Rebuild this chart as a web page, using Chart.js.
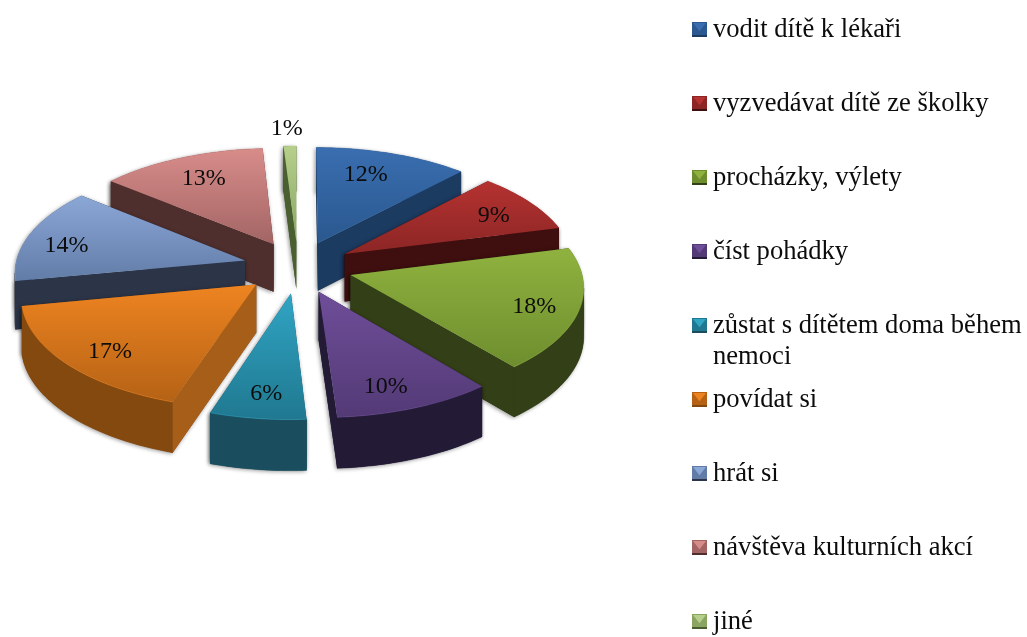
<!DOCTYPE html>
<html><head><meta charset="utf-8">
<style>html,body{margin:0;padding:0;background:#fff}canvas{display:block}</style>
<script src="https://cdn.jsdelivr.net/npm/chart.js@4/dist/chart.umd.min.js"></script>
</head><body><canvas id="c" width="1027" height="637"></canvas>
<script>
const categories = ['vodit dítě k lékaři','vyzvedávat dítě ze školky','procházky, výlety','číst pohádky',['zůstat s dítětem doma během','nemoci'],'povídat si','hrát si','návštěva kulturních akcí','jiné'];
const values = [12,9,18,10,6,17,14,13,1];
const topLight = ['#3a6eb0','#b53230','#8fb23f','#6f4e99','#30a5c4','#ee8421','#8ba7d6','#d88c8a','#b6d08c'];
const topDark  = ['#2a588f','#8b2625','#6e8e2e','#533a76','#207890','#b56215','#627ca8','#a26564','#8aa562'];
const sideColors = ['#1b3b60','#3f0f0f','#333f16','#231a36','#1a4e5e','#84490f','#2c3548','#4e2f2d','#4a5f30'];
const radialColors = ['#1b3b60','#3f0f0f','#333f16','#231a36','#1a4e5e','#a65e18','#2c3548','#4e2f2d','#4a5f30'];
const labelReach = [1,1,1,1,1,1,1,1,1.45];
const labelNudgeX = [-10,7,11,-5,0,-4,-14,2,-2];
const labelNudgeY = [1,2,5,9,7,8,5,1,1];

const TILT = 0.474, PERSPECTIVE = 0.094, WIDEN = 0.964, DEPTH = 48, FONT = '"Liberation Serif"';

function project(arc, R, a, t, off) {
  const mid = (arc.startAngle + arc.endAngle) / 2;
  const u = Math.cos(mid) * off + Math.cos(a) * t;
  const v = Math.sin(mid) * off + Math.sin(a) * t;
  const w = 1 - PERSPECTIVE * v;
  return { x: arc.x + R * WIDEN * u / w, y: arc.y + R * WIDEN * TILT * v / w, d: DEPTH / Math.sqrt(w) };
}
function poly(ctx, pts) {
  ctx.beginPath();
  pts.forEach((p, i) => i ? ctx.lineTo(p.x, p.y) : ctx.moveTo(p.x, p.y));
  ctx.closePath();
}
const pieOnGround = {
  id: 'pieOnGround',
  beforeDatasetDraw(chart) {
    const ctx = chart.ctx, arcs = chart.getDatasetMeta(0).data;
    const order = arcs.map((arc, i) => i).sort((a, b) =>
      Math.sin((arcs[a].startAngle + arcs[a].endAngle) / 2) - Math.sin((arcs[b].startAngle + arcs[b].endAngle) / 2));
    order.forEach(i => {
      const arc = arcs[i], R = arc.outerRadius, off = arc.options.offset / R;
      const n = Math.max(4, Math.ceil((arc.endAngle - arc.startAngle) * 40));
      const rim = [];
      for (let k = 0; k <= n; k++) rim.push(project(arc, R, arc.startAngle + (arc.endAngle - arc.startAngle) * k / n, 1, off));
      const apex = project(arc, R, 0, 0, off);
      const low = p => ({ x: p.x, y: p.y + p.d });
      const top = [apex, ...rim];
      ctx.save();
      ctx.shadowColor = 'rgba(0,0,0,0.45)'; ctx.shadowBlur = 4; ctx.shadowOffsetX = -1; ctx.shadowOffsetY = 1;
      ctx.fillStyle = sideColors[i];
      top.forEach((p, k) => {
        const q = top[(k + 1) % top.length];
        poly(ctx, [p, q, low(q), low(p)]); ctx.fill();
      });
      ctx.shadowColor = 'transparent';
      let run = [];
      const flush = () => {
        if (run.length > 1) { poly(ctx, [...run, ...run.slice().reverse().map(low)]); ctx.fillStyle = sideColors[i]; ctx.fill(); ctx.strokeStyle = sideColors[i]; ctx.lineWidth = 0.5; ctx.stroke(); }
        run = [];
      };
      for (let k = 0; k < rim.length; k++) {
        if (k < rim.length - 1 && rim[k + 1].x < rim[k].x) { run.push(rim[k]); }
        else { if (run.length) run.push(rim[k]); flush(); }
      }
      [[apex, rim[0]], [rim[rim.length - 1], apex]].forEach(([p, q]) => {
        if (q.x < p.x) { poly(ctx, [p, q, low(q), low(p)]); ctx.fillStyle = radialColors[i]; ctx.fill(); }
      });
      const ys = top.map(p => p.y), g = ctx.createLinearGradient(0, Math.min(...ys), 0, Math.max(...ys));
      g.addColorStop(0, topLight[i]); g.addColorStop(1, topDark[i]);
      poly(ctx, top); ctx.fillStyle = g; ctx.fill();
      ctx.beginPath(); rim.forEach((p, k) => k ? ctx.lineTo(p.x, p.y) : ctx.moveTo(p.x, p.y));
      ctx.globalAlpha = 0.5; ctx.strokeStyle = topLight[i]; ctx.lineWidth = 1; ctx.stroke();
      ctx.restore();
    });
    return false;
  },
  afterDraw(chart) {
    const ctx = chart.ctx, arcs = chart.getDatasetMeta(0).data;
    ctx.save();
    ctx.fillStyle = '#0c0c0c'; ctx.textAlign = 'center'; ctx.textBaseline = 'middle';
    ctx.font = '24px ' + FONT;
    arcs.forEach((arc, i) => {
      const R = arc.outerRadius, mid = (arc.startAngle + arc.endAngle) / 2;
      const p = project(arc, R, mid, labelReach[i] - arc.options.offset / R, arc.options.offset / R);
      ctx.fillText(values[i] + '%', p.x + labelNudgeX[i], p.y + labelNudgeY[i]);
    });
    ctx.font = '26.6px ' + FONT;
    ctx.textAlign = 'left'; ctx.textBaseline = 'alphabetic';
    categories.forEach((c, i) => {
      const y = 22 + 74 * i, x = 692, s = 15;
      ctx.fillStyle = topDark[i]; ctx.fillRect(x, y, s, s);
      ctx.fillStyle = topLight[i];
      ctx.beginPath(); ctx.moveTo(x + 1, y + 1); ctx.lineTo(x + s - 1, y + 1); ctx.lineTo(x + s / 2, y + s * 0.62); ctx.closePath(); ctx.fill();
      ctx.fillStyle = sideColors[i]; ctx.fillRect(x, y + s - 2, s, 2);
      ctx.fillStyle = '#0c0c0c';
      [].concat(c).forEach((line, k) => ctx.fillText(line, 713, 37 + 74 * i + k * 31));
    });
    ctx.restore();
  }
};
new Chart(document.getElementById('c'), {
  type: 'pie',
  data: { labels: categories.map(c => [].concat(c).join(' ')), datasets: [{ data: values, backgroundColor: topLight, offset: 57, borderWidth: 0, hoverOffset: 0 }] },
  options: {
    responsive: false, animation: false,
    layout: { padding: { left: 31, right: 462, top: 0, bottom: 103 } },
    plugins: { legend: { display: false }, tooltip: { enabled: false } }
  },
  plugins: [pieOnGround]
});
</script></body></html>
